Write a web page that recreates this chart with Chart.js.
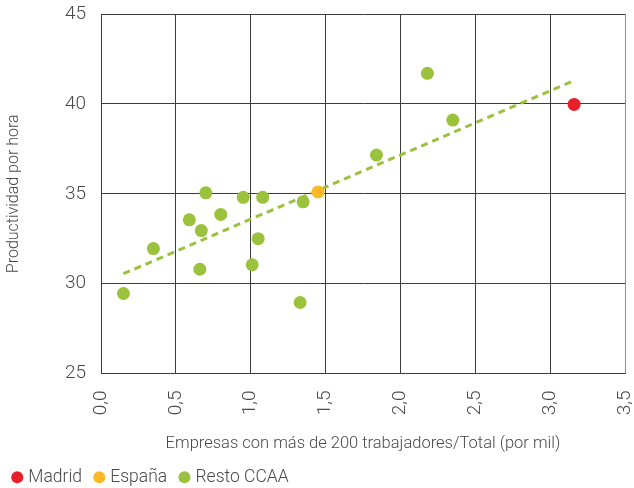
<!DOCTYPE html>
<html>
<head>
<meta charset="utf-8">
<script src="https://cdn.jsdelivr.net/npm/chart.js@4.4.1/dist/chart.umd.min.js"></script>
<style>
  html, body { margin: 0; padding: 0; background: #fff; }
  #wrap { width: 634px; height: 488px; }
</style>
</head>
<body>
<div id="wrap"><canvas id="myChart" width="634" height="488"></canvas></div>
<script>
    // empresas > 200 trabajadores / total (por mil) vs productividad por hora
    const madridX = [3.16];
    const madridY = [39.97];

    const espanaX = [1.45];
    const espanaY = [35.1];

    const restoX = [0.15, 0.35, 0.59, 0.67, 0.66, 0.70, 0.80, 0.95, 1.08, 1.05, 1.01, 1.33, 1.35, 1.84, 2.18, 2.35];
    const restoY = [29.45, 31.95, 33.55, 32.95, 30.8, 35.05, 33.85, 34.8, 34.8, 32.5, 31.05, 28.95, 34.55, 37.15, 41.7, 39.1];

    // recta de tendencia (extremos)
    const trendX = [0.15, 3.16];
    const trendY = [30.55, 41.3];

    const xTicks = [0, 0.5, 1, 1.5, 2, 2.5, 3, 3.5];

    const toPoints = (xs, ys) => xs.map((x, i) => ({ x: x, y: ys[i] }));

    const textColor = '#4a4a4a';
    const gridColor = '#3c3c3c';
    const dotRadius = 6.5;

    const data = {
        datasets: [
            {
                label: 'Madrid',
                data: toPoints(madridX, madridY),
                backgroundColor: '#e8202a',
                borderWidth: 0,
                pointRadius: dotRadius,
                pointHoverRadius: dotRadius,
                order: 1
            },
            {
                label: 'España',
                data: toPoints(espanaX, espanaY),
                backgroundColor: '#fdb827',
                borderWidth: 0,
                pointRadius: dotRadius,
                pointHoverRadius: dotRadius,
                order: 1
            },
            {
                label: 'Resto CCAA',
                data: toPoints(restoX, restoY),
                backgroundColor: '#9bc23c',
                borderWidth: 0,
                pointRadius: dotRadius,
                pointHoverRadius: dotRadius,
                order: 1
            },
            {
                type: 'line',
                label: 'Tendencia',
                data: toPoints(trendX, trendY),
                borderColor: '#9bc23c',
                borderWidth: 3,
                borderDash: [7, 5],
                pointRadius: 0,
                fill: false,
                order: 10
            }
        ]
    };

    const config = {
        type: 'scatter',
        data: data,
        options: {
            responsive: false,
            animation: false,
            layout: { padding: { top: 14, right: 9, left: 0, bottom: -8 } },
            plugins: {
                tooltip: { enabled: false },
                legend: {
                    position: 'bottom',
                    align: 'start',
                    labels: {
                        filter: (item) => item.text !== 'Tendencia',
                        usePointStyle: true,
                        pointStyle: 'circle',
                        boxWidth: 4.5,
                        boxHeight: 8.5,
                        padding: 15,
                        color: textColor,
                        font: { family: 'Roboto', size: 17.5, weight: 300 }
                    }
                }
            },
            scales: {
                x: {
                    type: 'linear',
                    min: 0,
                    max: 3.5,
                    afterBuildTicks: (scale) => {
                        scale.ticks = xTicks.map(v => ({ value: v }));
                    },
                    afterFit: (scale) => {
                        scale.height = 80;
                        scale.paddingLeft = 0;
                        scale.paddingRight = 0;
                    },
                    grid: {
                        drawTicks: false,
                        lineWidth: 1,
                        color: (ctx) => ctx.tick && ctx.tick.value === 3.5 ? '#8c8c8c' : gridColor
                    },
                    border: { display: true, color: gridColor, width: 1 },
                    ticks: {
                        minRotation: 90,
                        maxRotation: 90,
                        padding: 17,
                        color: textColor,
                        font: { family: 'Roboto', size: 19, weight: 300 },
                        callback: (v) => Number(v).toFixed(1).replace('.', ',')
                    },
                    title: {
                        display: true,
                        text: 'Empresas con más de 200 trabajadores/Total (por mil)',
                        color: textColor,
                        font: { family: 'Roboto', size: 16.5, weight: 300 },
                        padding: { top: 6, bottom: 0 }
                    }
                },
                y: {
                    min: 25,
                    max: 45,
                    afterFit: (scale) => {
                        scale.width = 101;
                        scale.paddingTop = 0;
                        scale.paddingBottom = 0;
                    },
                    grid: {
                        drawTicks: false,
                        lineWidth: 1,
                        color: gridColor
                    },
                    border: { display: true, color: gridColor, width: 1 },
                    ticks: {
                        stepSize: 5,
                        padding: 15,
                        color: textColor,
                        font: { family: 'Roboto', size: 19, weight: 300 }
                    },
                    title: {
                        display: true,
                        text: 'Productividad por hora',
                        color: textColor,
                        font: { family: 'Roboto', size: 16, weight: 300 },
                        padding: { top: 4, bottom: 0 }
                    }
                }
            }
        }
    };

    const myChart = new Chart(
        document.getElementById('myChart'),
        config
    );
</script>
</body>
</html>
